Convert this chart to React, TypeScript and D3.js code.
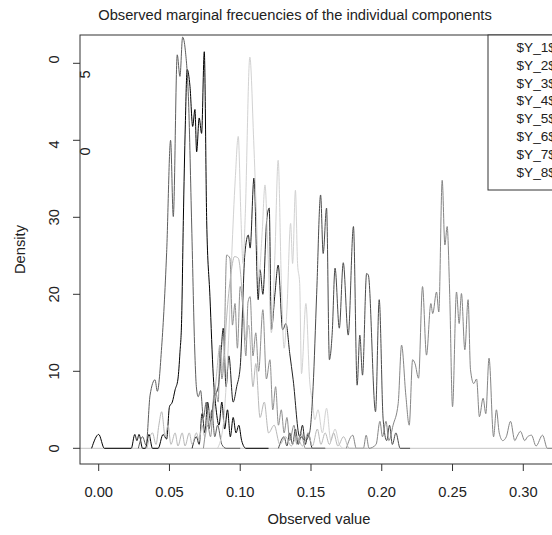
import React from "react";
import * as d3 from "d3";

const W = 552;
const H = 535;

const seriesNames = ["$Y_1$", "$Y_2$", "$Y_3$", "$Y_4$", "$Y_5$", "$Y_6$", "$Y_7$", "$Y_8$"];
const seriesColors = ["#000000", "#5e5e5e", "#222222", "#d2d2d2", "#8f8f8f", "#4a4a4a", "#858585", "#b8b8b8"];

const xTicks = [0, 0.05, 0.1, 0.15, 0.2, 0.25, 0.3];
const yTicks = [0, 10, 20, 30, 40, 50];
const yTickLabels = ["0", "10", "20", "30", "4", "0"];
const yStrayGlyphs = [
  { v: 50, t: "5" },
  { v: 40, t: "0" },
];

const y1: [number, number][] = [
  [-0.005, 0], [0, 1.8], [0.004, 0], [0.023, 0], [0.0255, 1.8], [0.027, 1.0], [0.0285, 1.8], [0.031, 0],
  [0.033, 0], [0.0355, 1.8], [0.038, 0], [0.042, 0], [0.0455, 1.8], [0.048, 1.2], [0.05, 5.4], [0.052, 6.0],
  [0.054, 7.6], [0.056, 9.0], [0.0574, 12.4], [0.0586, 16.7], [0.0598, 29.6], [0.0612, 42], [0.0625, 49.2],
  [0.0645, 47], [0.0664, 41.8], [0.068, 44], [0.0692, 38.5], [0.071, 42.9], [0.0727, 40.9], [0.0746, 51.5],
  [0.0763, 29.6], [0.0786, 19.7], [0.081, 9.3], [0.083, 5], [0.085, 3], [0.087, 6], [0.089, 2.5], [0.091, 5],
  [0.093, 1.5], [0.095, 4], [0.097, 2], [0.099, 3], [0.101, 1], [0.104, 0], [0.12, 0],
];

const y2: [number, number][] = [
  [0.028, 0], [0.031, 1.5], [0.0335, 0.4], [0.0363, 6.9], [0.0398, 8.9], [0.0414, 7.4], [0.0445, 13.2],
  [0.048, 25.4], [0.0508, 40], [0.0527, 30.1], [0.0555, 51.1], [0.0574, 48.3], [0.0593, 53.4], [0.0612, 51.7],
  [0.0635, 45], [0.0657, 29], [0.068, 12], [0.069, 8], [0.0703, 6.7], [0.072, 7.5], [0.074, 4], [0.076, 6],
  [0.078, 2.5], [0.08, 5], [0.082, 1.5], [0.084, 3], [0.087, 0.5], [0.09, 0], [0.1, 0],
];

const y3: [number, number][] = [
  [0.066, 0], [0.069, 1.5], [0.071, 0.5], [0.073, 4.5], [0.075, 2], [0.077, 6], [0.079, 3.5], [0.0815, 6.5],
  [0.0845, 8], [0.086, 11], [0.088, 15.6], [0.09, 8], [0.092, 12], [0.095, 6], [0.0975, 8], [0.1, 10.6],
  [0.1033, 25.3], [0.1057, 27.7], [0.107, 26], [0.1097, 35.1], [0.1127, 19.3], [0.114, 23.2], [0.116, 20],
  [0.1187, 29.6], [0.1205, 31.2], [0.122, 15.4], [0.1245, 20], [0.1268, 23.8], [0.13, 15.4], [0.1323, 16.2],
  [0.135, 12.3], [0.1374, 8.9], [0.142, 1.5], [0.144, 3], [0.146, 0.5], [0.148, 2], [0.151, 0], [0.16, 0],
];

const y4: [number, number][] = [
  [0.084, 0], [0.088, 3], [0.09, 8], [0.092, 15], [0.094, 25], [0.0965, 35], [0.0986, 40.5], [0.1005, 30],
  [0.102, 24], [0.1035, 30], [0.1068, 50.8], [0.1095, 40], [0.1115, 30], [0.113, 22], [0.1155, 28],
  [0.1175, 34.2], [0.1195, 26], [0.122, 15], [0.1245, 25], [0.1268, 37.4], [0.129, 22], [0.131, 13],
  [0.133, 18], [0.1356, 29.2], [0.137, 24], [0.139, 33.5], [0.1405, 24], [0.142, 21.4], [0.1433, 9.7],
  [0.1464, 18.8], [0.149, 8.9], [0.151, 6], [0.1527, 3.7], [0.155, 5], [0.158, 2], [0.161, 5.2], [0.164, 1],
  [0.167, 2.5], [0.17, 0.5], [0.173, 0], [0.18, 0],
];

const y5: [number, number][] = [
  [0.074, 0], [0.077, 3], [0.079, 1.5], [0.082, 8], [0.0845, 6], [0.0857, 13.4], [0.087, 9], [0.0885, 12],
  [0.0904, 25.1], [0.0927, 24.7], [0.0945, 16], [0.0963, 18.8], [0.098, 13], [0.1, 21], [0.102, 18],
  [0.104, 12], [0.1055, 19], [0.107, 19.7], [0.109, 12], [0.111, 15], [0.113, 10], [0.116, 18], [0.1185, 9],
  [0.121, 11.5], [0.123, 5], [0.125, 8], [0.127, 3], [0.129, 5], [0.131, 2], [0.133, 4], [0.135, 1],
  [0.138, 3], [0.14, 0.5], [0.143, 2], [0.146, 0], [0.16, 0],
];

const y6: [number, number][] = [
  [0.127, 0], [0.131, 1.5], [0.133, 0.3], [0.135, 2], [0.137, 0.5], [0.139, 2.5], [0.141, 0.5], [0.143, 1.5],
  [0.146, 1], [0.149, 2], [0.1515, 8], [0.154, 20], [0.1568, 32.9], [0.1586, 25.3], [0.161, 31.2],
  [0.163, 11.5], [0.165, 15], [0.167, 23.4], [0.17, 15.6], [0.1728, 24.1], [0.1763, 14.7], [0.18, 28.8],
  [0.1826, 8.2], [0.1845, 14.7], [0.1864, 9.5], [0.1893, 22.7], [0.1905, 22.5], [0.1956, 4.75],
  [0.1982, 19.3], [0.201, 3.7], [0.2035, 1], [0.2055, 3], [0.2075, 0.5], [0.21, 2], [0.213, 0], [0.22, 0],
];

const y7: [number, number][] = [
  [0.175, 0], [0.1795, 1.7], [0.182, 0], [0.187, 0], [0.189, 1.7], [0.191, 0], [0.196, 0.5], [0.1987, 3.5],
  [0.2005, 1.5], [0.203, 3.5], [0.205, 1], [0.208, 3], [0.2116, 5.8], [0.214, 13.4], [0.217, 6.9],
  [0.2194, 3], [0.2218, 11.5], [0.2235, 11], [0.226, 9.1], [0.2288, 21], [0.2316, 12.1], [0.2347, 18.8],
  [0.236, 17.5], [0.2387, 20.3], [0.2403, 17.7], [0.2427, 34.8], [0.2446, 26.4], [0.2462, 28.8], [0.248, 20],
  [0.25, 5.4], [0.2528, 20.3], [0.2547, 16.2], [0.2563, 20.1], [0.2587, 12.8], [0.261, 19.3], [0.2627, 10.2],
  [0.265, 8.4], [0.267, 9], [0.269, 4.1], [0.2716, 6.5], [0.2735, 4.5], [0.2758, 11.7], [0.279, 1.5],
  [0.281, 5], [0.283, 2], [0.2855, 1], [0.288, 1.5], [0.291, 3.5], [0.294, 1], [0.2955, 1.5], [0.298, 2.2],
  [0.301, 1], [0.303, 1.5], [0.3058, 1.7], [0.309, 0.3], [0.3136, 1.7], [0.317, 0], [0.34, 0],
];

const y8: [number, number][] = [
  [0.034, 0], [0.038, 2], [0.0405, 0.5], [0.0425, 3], [0.0445, 4.75], [0.047, 1.5], [0.049, 3], [0.051, 0.5],
  [0.054, 2], [0.056, 0.3], [0.059, 2], [0.061, 0.3], [0.064, 2], [0.066, 0.5], [0.069, 2], [0.071, 1],
  [0.073, 3], [0.075, 1.5], [0.078, 5], [0.08, 3], [0.083, 9], [0.0857, 13.4], [0.088, 10], [0.09, 16],
  [0.093, 22], [0.096, 24.9], [0.0986, 24.7], [0.102, 18.8], [0.104, 14], [0.106, 16], [0.109, 8],
  [0.111, 11], [0.114, 4], [0.117, 6], [0.12, 2], [0.124, 3], [0.128, 0.5], [0.132, 1.5], [0.136, 0.3],
  [0.14, 1.5], [0.144, 0.3], [0.148, 2], [0.151, 0.3], [0.1545, 2.5], [0.157, 0.5], [0.16, 2], [0.163, 0.5],
  [0.166, 2], [0.169, 0.3], [0.173, 1.5], [0.177, 0], [0.19, 0],
];

const allSeries = [y1, y2, y3, y4, y5, y6, y7, y8];

const PLOT = { left: 80, right: 585, top: 35, bottom: 464 };

export default function App() {
  const x = d3
    .scaleLinear()
    .domain([-0.01321, 0.3436])
    .range([PLOT.left, PLOT.right]);
  const y = d3
    .scaleLinear()
    .domain([-2.039, 53.675])
    .range([PLOT.bottom, PLOT.top]);

  const line = d3
    .line<[number, number]>()
    .x((d) => x(d[0]))
    .y((d) => y(d[1]))
    .curve(d3.curveMonotoneX);

  const font = "'Liberation Sans', Arial, Helvetica, sans-serif";
  const textColor = "#222";
  const fs = 14.7;
  const legendFs = 13.6;

  const legendTop = 35;
  const legendRowH = 17.8;
  const legendLeft = 488;

  return (
    <svg
      width={W}
      height={H}
      style={{ position: "absolute", left: 0, top: 0, background: "#fff" }}
      fontFamily={font}
    >
      <defs>
        <clipPath id="plotclip">
          <rect x={PLOT.left} y={PLOT.top} width={PLOT.right - PLOT.left} height={PLOT.bottom - PLOT.top} />
        </clipPath>
      </defs>
      <rect x={0} y={0} width={W} height={H} fill="#fff" />
      <text x={295} y={20} textAnchor="middle" fontSize={fs} fill={textColor}>
        Observed marginal frecuencies of the individual components
      </text>

      <g clipPath="url(#plotclip)">
        <line x1={PLOT.left} x2={PLOT.right} y1={y(0)} y2={y(0)} stroke="#c4c4c4" strokeWidth={1} />
        {allSeries.map((s, i) => (
          <path key={i} d={line(s) || ""} fill="none" stroke={seriesColors[i]} strokeWidth={1} />
        ))}
      </g>

      <rect
        x={PLOT.left}
        y={PLOT.top}
        width={PLOT.right - PLOT.left}
        height={PLOT.bottom - PLOT.top}
        fill="none"
        stroke="#333"
        strokeWidth={1}
      />

      {/* x axis */}
      {xTicks.map((t) => (
        <g key={t}>
          <line x1={x(t)} x2={x(t)} y1={PLOT.bottom} y2={PLOT.bottom + 7} stroke="#333" />
          <text x={x(t)} y={497} textAnchor="middle" fontSize={fs} fill={textColor}>
            {d3.format(".2f")(t)}
          </text>
        </g>
      ))}
      <text x={319} y={524} textAnchor="middle" fontSize={fs} fill={textColor}>
        Observed value
      </text>

      {/* y axis */}
      {yTicks.map((t, i) => (
        <g key={t}>
          <line x1={PLOT.left - 7} x2={PLOT.left} y1={y(t)} y2={y(t)} stroke="#333" />
          <text
            transform={`translate(59,${y(t) + (i >= 4 ? (i === 4 ? 4 : -4) : 0)}) rotate(-90)`}
            textAnchor="middle"
            fontSize={fs}
            fill={textColor}
          >
            {yTickLabels[i]}
          </text>
        </g>
      ))}
      {yStrayGlyphs.map((g) => (
        <text
          key={g.t + g.v}
          transform={`translate(90,${y(g.v) + 11}) rotate(-90)`}
          textAnchor="middle"
          fontSize={fs}
          fill={textColor}
        >
          {g.t}
        </text>
      ))}
      <text
        transform={`translate(25,${(PLOT.top + PLOT.bottom) / 2}) rotate(-90)`}
        textAnchor="middle"
        fontSize={fs}
        fill={textColor}
      >
        Density
      </text>

      {/* legend */}
      <rect
        x={legendLeft}
        y={legendTop}
        width={120}
        height={155}
        fill="#fff"
        stroke="#333"
        strokeWidth={1}
      />
      {seriesNames.map((n, i) => (
        <text key={n} x={516.5} y={legendTop + 17 + i * legendRowH} fontSize={legendFs} fill={textColor}>
          {n}
        </text>
      ))}
    </svg>
  );
}
